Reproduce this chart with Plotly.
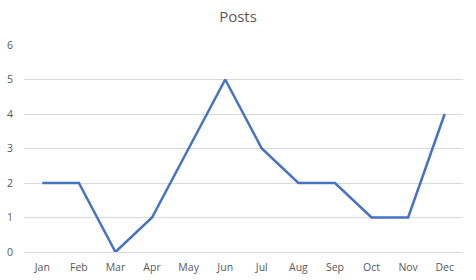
import plotly.graph_objects as go

months = ["Jan", "Feb", "Mar", "Apr", "May", "Jun", "Jul", "Aug", "Sep", "Oct", "Nov", "Dec"]
posts = [2, 2, 0, 1, 3, 5, 3, 2, 2, 1, 1, 4]
y_ticks = [0, 1, 2, 3, 4, 5, 6]

fig = go.Figure()
fig.add_trace(go.Scatter(x=list(range(len(months))), y=posts, mode="lines",
                         line=dict(color="#4472C4", width=2.5), hoverinfo="skip"))

fig.update_layout(
    width=476, height=280,
    margin=dict(l=24, r=13, t=45, b=28, autoexpand=False),
    paper_bgcolor="white", plot_bgcolor="white",
    showlegend=False,
    title=dict(text="Posts", x=0.5, xanchor="center", y=1 - 17 / 280, yanchor="middle",
               font=dict(family="Open Sans, Calibri, sans-serif", size=15, color="#595959")),
    font=dict(family="Open Sans, Calibri, sans-serif", size=10, color="#595959"),
)
fig.update_xaxes(range=[-0.5, len(months) - 0.5], tickmode="array",
                 tickvals=list(range(len(months))), ticktext=months,
                 showgrid=False, zeroline=False, showline=False, ticks="",
                 automargin=False, ticklabelstandoff=7,
                 tickfont=dict(size=10.5, color="#595959"))
fig.update_yaxes(range=[0, 6], tickmode="array", tickvals=y_ticks,
                 showgrid=True, gridcolor="#D9D9D9", gridwidth=1,
                 zeroline=True, zerolinecolor="#D9D9D9", zerolinewidth=1,
                 showline=False, ticks="", ticklabelstandoff=10, automargin=False,
                 tickfont=dict(size=10.5, color="#595959"))
fig.write_html("out.html")
